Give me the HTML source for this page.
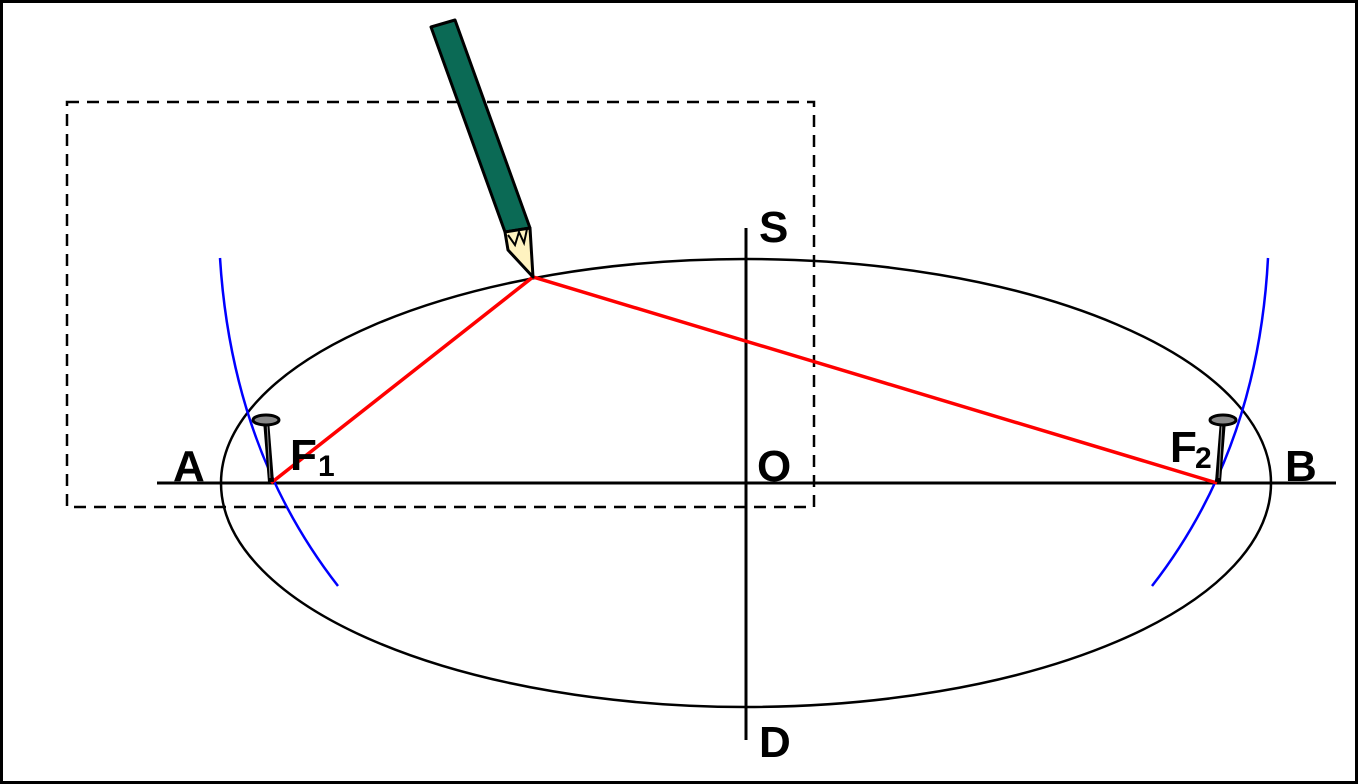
<!DOCTYPE html>
<html><head><style>
html,body{margin:0;padding:0;background:#fff}
svg{display:block}
text{font-family:"Liberation Sans",Arial,sans-serif;font-weight:bold;fill:#000}
</style></head><body>
<svg width="1358" height="784" viewBox="0 0 1358 784" xmlns="http://www.w3.org/2000/svg">
<rect x="1.5" y="1.5" width="1355" height="781" fill="#fff" stroke="#000" stroke-width="3"/>
<rect x="67" y="102" width="747" height="405" fill="none" stroke="#000" stroke-width="2.5" stroke-dasharray="12,8"/>
<ellipse cx="746" cy="483" rx="525" ry="224" fill="none" stroke="#000" stroke-width="2.5"/>
<line x1="157" y1="483" x2="1336" y2="483" stroke="#000" stroke-width="3"/>
<line x1="746" y1="228" x2="746" y2="740" stroke="#000" stroke-width="3"/>
<path d="M220 258 Q232 450 338 586" fill="none" stroke="#0000ff" stroke-width="2.5"/>
<path d="M1268 258 Q1258 450 1152 586" fill="none" stroke="#0000ff" stroke-width="2.5"/>
<polyline points="271,483 533,277 1217,483" fill="none" stroke="#ff0000" stroke-width="3.5"/>
<!-- pencil -->
<polygon points="431,27 455,20 530,228 505,232" fill="#0b6a55" stroke="#000" stroke-width="3" stroke-linejoin="round"/>
<polygon points="505,232 530,228 533,277 508,250" fill="#fff3c0" stroke="#000" stroke-width="3" stroke-linejoin="round"/>
<path d="M508,235 L515,245 L519,232 L524,243 L527,229" fill="none" stroke="#000" stroke-width="2"/>
<!-- nails -->
<g>
<line x1="266" y1="420" x2="271" y2="482" stroke="#000" stroke-width="6"/>
<line x1="267" y1="422" x2="270" y2="478" stroke="#999" stroke-width="1"/>
<ellipse cx="266" cy="420" rx="13" ry="5" fill="#888" stroke="#000" stroke-width="3"/>
</g>
<g>
<line x1="1223" y1="420" x2="1218" y2="482" stroke="#000" stroke-width="6"/>
<line x1="1222" y1="422" x2="1219" y2="478" stroke="#999" stroke-width="1"/>
<ellipse cx="1223" cy="420" rx="13" ry="5" fill="#888" stroke="#000" stroke-width="3"/>
</g>
<text x="173" y="481" font-size="44">A</text>
<text x="290" y="470" font-size="44">F</text>
<text x="318" y="476" font-size="30">1</text>
<text x="757" y="481" font-size="44">O</text>
<text x="759" y="242" font-size="44">S</text>
<text x="759" y="757" font-size="44">D</text>
<text x="1170" y="462" font-size="44">F</text>
<text x="1195" y="468" font-size="30">2</text>
<text x="1285" y="481" font-size="44">B</text>
</svg>
</body></html>
